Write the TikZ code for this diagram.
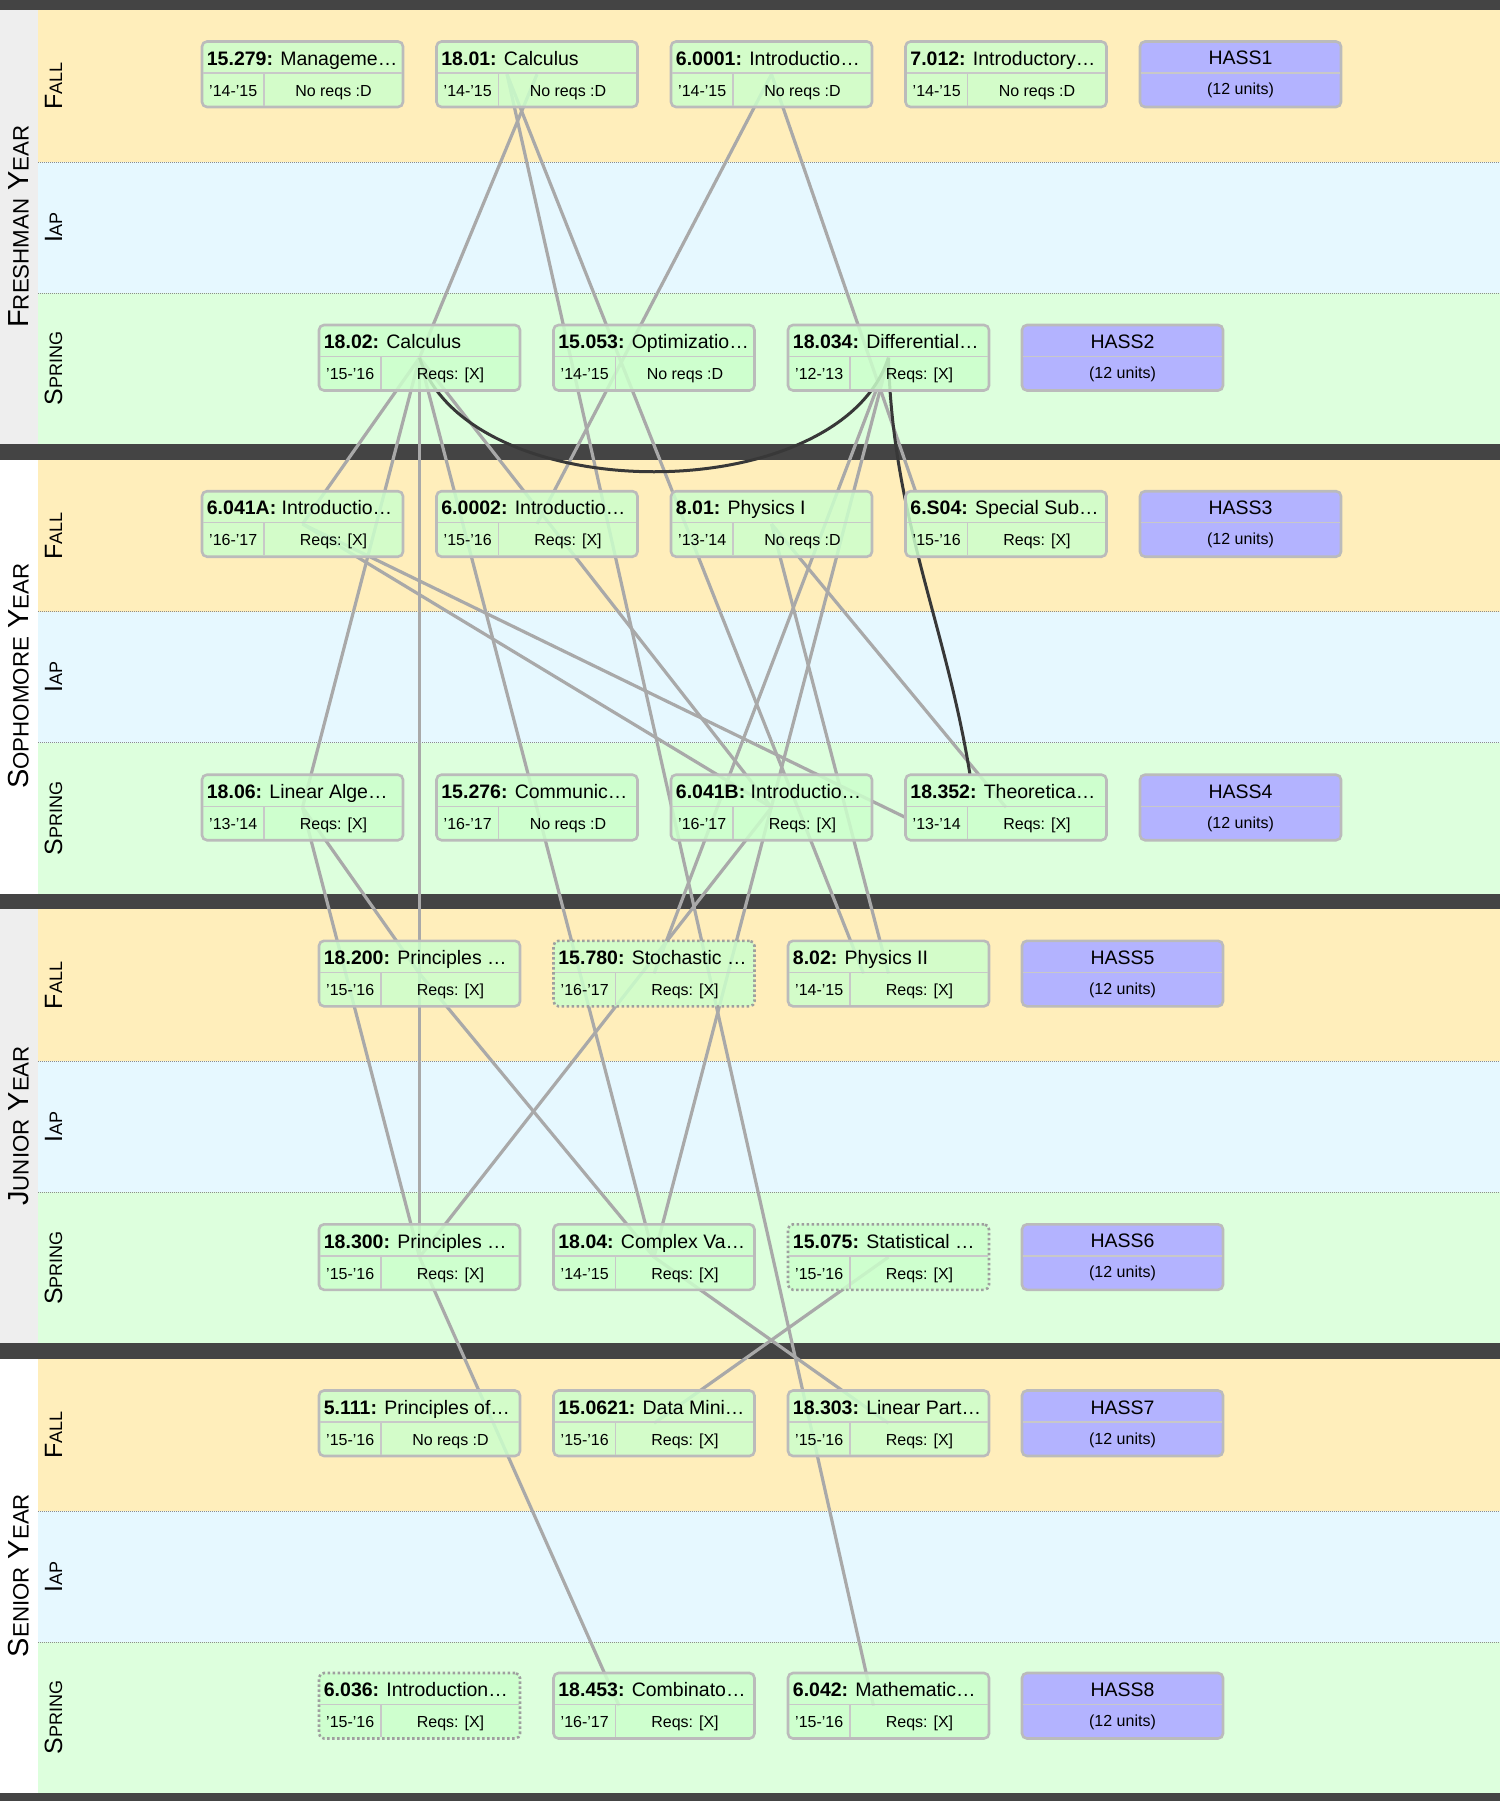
\documentclass[tikz,border=0pt]{standalone}
\usepackage{fontspec}
\setmainfont{Liberation Sans}
\usetikzlibrary{positioning}
\usetikzlibrary{calc}

\definecolor{fallbg}{HTML}{FFEEBB}
\definecolor{iapbg}{HTML}{E6F8FF}
\definecolor{springbg}{HTML}{DDFFDD}
\definecolor{barcol}{HTML}{444444}
\definecolor{sidebg}{HTML}{EEEEEE}
\definecolor{boxfill}{HTML}{CCFFCC}
\definecolor{hassfill}{HTML}{B3B3FF}
\definecolor{boxline}{HTML}{BBBBBB}
\definecolor{cellline}{HTML}{C8C8C8}
\definecolor{reqline}{HTML}{A9A9A9}

\newcommand\titlefont{\fontsize{19.5}{22}\selectfont}
\newcommand\subfont{\fontsize{16}{18}\selectfont}
\newcommand\yrsc[2]{{\fontsize{29}{32}\selectfont #1}{\fontsize{22.3}{25}\selectfont #2}}
\newcommand\semsc[2]{{\fontsize{25}{28}\selectfont #1}{\fontsize{18}{20}\selectfont #2}}

\pgfdeclarelayer{bands}
\pgfdeclarelayer{links}
\pgfsetlayers{bands,links,main}

\tikzset{
  coursebox/.style={draw=boxline, fill=boxfill, fill opacity=0.85, rounded corners=5pt,
    line width=2.6pt, minimum width=201pt, minimum height=65.5pt, inner sep=0pt, outer sep=0pt},
  hassbox/.style={coursebox, fill=hassfill, fill opacity=1},
  maybe/.style={draw=boxline!85!black, dash pattern=on 2.5pt off 2.5pt},
  cell/.style={draw=cellline, line width=1.4pt},
  titletext/.style={inner sep=0pt, anchor=base west, font=\titlefont},
  subtext/.style={inner sep=0pt, anchor=base, font=\subfont},
  sepline/.style={draw=black!45, line width=0.8pt, dash pattern=on 1pt off 1pt},
  semlabel/.style={rotate=90, anchor=base, inner sep=0pt},
  yearlabel/.style={semlabel, font=\fontsize{29}{32}\selectfont},
  req/.style={draw=reqline, line width=3.2pt},
  coreq/.style={draw=black!78, line width=3pt},
}

% one course box: [style]{name}{left}{top}{code}{title}{years}{reqs}
\newcommand\course[8][]{%
  \node[coursebox,#1] (#2) at (#3+100.5,#4+32.75) {};
  \draw[cell] ($(#2.north west)+(1.3,31.5)$) -- ($(#2.north east)+(-1.3,31.5)$);
  \draw[cell] ($(#2.north west)+(62,31.5)$) -- ($(#2.south west)+(62,-1.3)$);
  \node[titletext] (#2-t) at ($(#2.north west)+(4.7,23.7)$) {\textbf{#5:} #6};
  \node[subtext, anchor=base west] (#2-y) at ($(#2.north west)+(7,54.7)$) {#7};
  \node[subtext] (#2-r) at ($(#2.north west)+(131.5,54.7)$) {#8};
}
% one HASS box: {name}{left}{top}{number}
\newcommand\hass[4]{%
  \node[hassbox] (#1) at (#2+100.5,#3+32.75) {};
  \draw[cell] ($(#1.north west)+(1.3,31.5)$) -- ($(#1.north east)+(-1.3,31.5)$);
  \node[subtext, font=\titlefont] (#1-t) at ($(#1.north west)+(100.5,23.5)$) {HASS#4};
  \node[subtext] (#1-u) at ($(#1.north west)+(100.5,53.5)$) {(12 units)};
}

\begin{document}
\begin{tikzpicture}[x=1pt,y=-1pt]
  \useasboundingbox (0,0) rectangle (1500,1801);

  % bands of the four years
  \begin{pgfonlayer}{bands}
    \fill[barcol] (0,0) rectangle (1500,10);
    \foreach \k/\fa/\fb/\side in {0/F/RESHMAN/sidebg,1/S/OPHOMORE/white,2/J/UNIOR/sidebg,3/S/ENIOR/white} {
      \pgfmathsetmacro\T{10+449.67*\k}
      \fill[\side] (0,\T) rectangle (38,\T+434);
      \fill[fallbg] (38,\T) rectangle (1500,\T+152);
      \fill[iapbg] (38,\T+152) rectangle (1500,\T+283);
      \fill[springbg] (38,\T+283) rectangle (1500,\T+434);
      \fill[barcol] (0,\T+434) rectangle (1500,\T+449.67);
      \draw[sepline] (38,\T+152) -- (1500,\T+152);
      \draw[sepline] (38,\T+283) -- (1500,\T+283);
      \node[yearlabel] (year\k) at (28.5,\T+216.5) {\yrsc{\fa}{\fb} \yrsc{Y}{EAR}};
      \node[semlabel] (fall\k) at (62,\T+76) {\semsc{F}{ALL}};
      \node[semlabel] (iap\k) at (62,\T+217.5) {\semsc{I}{AP}};
      \node[semlabel] (spring\k) at (62,\T+358.5) {\semsc{S}{PRING}};
    }
  \end{pgfonlayer}

  % columns and rows
  \def\ca{202} \def\cb{436.5} \def\cc{671} \def\cd{905.5} \def\ce{1140}
  \def\oa{319} \def\ob{553.5} \def\oc{788} \def\od{1022}
  \def\ra{41.5} \def\rb{325} \def\rc{491.2} \def\rd{774.7}
  \def\re{940.8} \def\rf{1224.3} \def\rg{1390.5} \def\rh{1673}

  % freshman
  \course{c15279}{\ca}{\ra}{15.279}{Manageme…}{'14-'15}{No reqs :D}
  \course{c1801}{\cb}{\ra}{18.01}{Calculus}{'14-'15}{No reqs :D}
  \course{c60001}{\cc}{\ra}{6.0001}{Introductio…}{'14-'15}{No reqs :D}
  \course{c7012}{\cd}{\ra}{7.012}{Introductory…}{'14-'15}{No reqs :D}
  \hass{hass1}{\ce}{\ra}{1}
  \course{c1802}{\oa}{\rb}{18.02}{Calculus}{'15-'16}{Reqs: [X]}
  \course{c15053}{\ob}{\rb}{15.053}{Optimizatio…}{'14-'15}{No reqs :D}
  \course{c18034}{\oc}{\rb}{18.034}{Differential…}{'12-'13}{Reqs: [X]}
  \hass{hass2}{\od}{\rb}{2}
  % sophomore
  \course{c6041A}{\ca}{\rc}{6.041A}{Introductio…}{'16-'17}{Reqs: [X]}
  \course{c60002}{\cb}{\rc}{6.0002}{Introductio…}{'15-'16}{Reqs: [X]}
  \course{c801}{\cc}{\rc}{8.01}{Physics I}{'13-'14}{No reqs :D}
  \course{c6S04}{\cd}{\rc}{6.S04}{Special Sub…}{'15-'16}{Reqs: [X]}
  \hass{hass3}{\ce}{\rc}{3}
  \course{c1806}{\ca}{\rd}{18.06}{Linear Alge…}{'13-'14}{Reqs: [X]}
  \course{c15276}{\cb}{\rd}{15.276}{Communic…}{'16-'17}{No reqs :D}
  \course{c6041B}{\cc}{\rd}{6.041B}{Introductio…}{'16-'17}{Reqs: [X]}
  \course{c18352}{\cd}{\rd}{18.352}{Theoretica…}{'13-'14}{Reqs: [X]}
  \hass{hass4}{\ce}{\rd}{4}
  % junior
  \course{c18200}{\oa}{\re}{18.200}{Principles …}{'15-'16}{Reqs: [X]}
  \course[maybe]{c15780}{\ob}{\re}{15.780}{Stochastic …}{'16-'17}{Reqs: [X]}
  \course{c802}{\oc}{\re}{8.02}{Physics II}{'14-'15}{Reqs: [X]}
  \hass{hass5}{\od}{\re}{5}
  \course{c18300}{\oa}{\rf}{18.300}{Principles …}{'15-'16}{Reqs: [X]}
  \course{c1804}{\ob}{\rf}{18.04}{Complex Va…}{'14-'15}{Reqs: [X]}
  \course[maybe]{c15075}{\oc}{\rf}{15.075}{Statistical …}{'15-'16}{Reqs: [X]}
  \hass{hass6}{\od}{\rf}{6}
  % senior
  \course{c5111}{\oa}{\rg}{5.111}{Principles of…}{'15-'16}{No reqs :D}
  \course{c150621}{\ob}{\rg}{15.0621}{Data Mini…}{'15-'16}{Reqs: [X]}
  \course{c18303}{\oc}{\rg}{18.303}{Linear Part…}{'15-'16}{Reqs: [X]}
  \hass{hass7}{\od}{\rg}{7}
  \course[maybe]{c6036}{\oa}{\rh}{6.036}{Introduction…}{'15-'16}{Reqs: [X]}
  \course{c18453}{\ob}{\rh}{18.453}{Combinato…}{'16-'17}{Reqs: [X]}
  \course{c6042}{\oc}{\rh}{6.042}{Mathematic…}{'15-'16}{Reqs: [X]}
  \hass{hass8}{\od}{\rh}{8}

  % requirement links
  \begin{pgfonlayer}{links}
    \foreach \a/\b in {c1801/c1802, c60001/c60002,
        c1802/c6041A, c1802/c1806, c1802/c18200, c1802/c18300, c1802/c6041B, c1802/c1804,
        c18034/c15780, c18034/c1804, c6041A/c6041B, c801/c802, c801/c18352,
        c1806/c18200, c1806/c18300, c6041B/c18300, c18200/c1804,
        c15075/c150621, c1804/c18303}
      \draw[req] (\a.center) -- (\b.center);
    \draw[req] ([xshift=-30pt]c1801.center) -- ([xshift=-15pt]c6042.center);
    \draw[req] ([xshift=-30pt]c1801.center) -- ([xshift=-25pt]c802.center);
    \draw[req] (c60001.center) -- ([xshift=10pt]c6S04.north west);
    \draw[req] (c6041A.center) -- ([yshift=-10pt]c18352.west);
    \draw[req] (c18300.center) -- ([xshift=-35pt]c18453.center);
    % co-requisites
    \draw[coreq] (c1802.center) .. controls ($(c1802.center)+(50,152)$)
      and ($(c18034.center)+(-50,152)$) .. (c18034.center);
    \draw[coreq] (c18034.center) .. controls ($(c18034.center)+(4,160)$)
      and ($(c18352.north)+(-60,-150)$) .. ([xshift=-36pt]c18352.north);
  \end{pgfonlayer}
\end{tikzpicture}
\end{document}
